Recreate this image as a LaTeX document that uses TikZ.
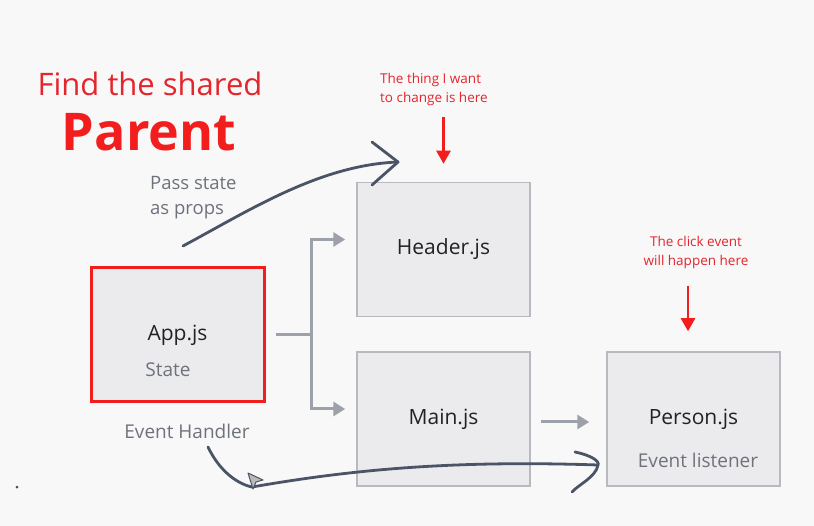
\documentclass[tikz,border=0pt]{standalone}
\usepackage{fontspec}
\setmainfont{Open Sans}
\usetikzlibrary{arrows.meta,positioning}

\definecolor{bgcol}{HTML}{F8F8F9}
\definecolor{boxfill}{HTML}{EBEBED}
\definecolor{boxline}{HTML}{B8BABF}
\definecolor{redtxt}{HTML}{E3262C}
\definecolor{redbig}{HTML}{F21E1E}
\definecolor{conngray}{HTML}{9DA1A9}
\definecolor{penink}{HTML}{4B5466}
\definecolor{subgray}{HTML}{6E727A}
\definecolor{maintxt}{HTML}{222222}

\tikzset{
  jsbox/.style={draw=boxline, fill=boxfill, line width=1.5pt, minimum width=173pt,
    minimum height=134pt, inner sep=0pt, text=maintxt, font=\fontsize{21}{24}\selectfont},
  subtxt/.style={text=subgray, font=\fontsize{19}{22}\selectfont, inner sep=0pt},
  notetxt/.style={text=redtxt, font=\fontsize{13.5}{19}\selectfont, inner sep=0pt},
  conn/.style={draw=conngray, line width=3pt, -{Triangle[length=12pt,width=14pt]}},
  redarr/.style={draw=redbig, line width=2.5pt, -{Triangle[length=13pt,width=14pt]}},
  pen/.style={draw=penink, line width=2.8pt, line cap=round, line join=round}
}

\begin{document}
\begin{tikzpicture}[x=1pt,y=-1pt]
\fill[bgcol] (0,0) rectangle (814,526);
\useasboundingbox (0,0) rectangle (814,526);
% Title
  \node[text=redtxt, font=\fontsize{31}{34}\selectfont, inner sep=0pt] (find) at (150,84) {Find the shared};
  \node[text=redbig, font=\fontsize{52}{56}\selectfont\bfseries, inner sep=0pt] (parent) at (149,132) {Parent};
  \node[subtxt, text=subgray, font=\fontsize{18.5}{25}\selectfont, align=left, anchor=west] (pass) at (150,198) {Pass state\\as props};
% Boxes
  \node[jsbox, draw=redbig, line width=3pt] (app) at (177.5,335) {App.js};
  \node[jsbox] (header) at (443.5,249.5) {Header.js};
  \node[jsbox] (main) at (443.5,419) {Main.js};
  \node[jsbox] (person) at (693.5,419) {Person.js};
  \node[subtxt] (state) at (168,370) {State};
  \node[subtxt] (handler) at (187,431) {Event Handler};
  \node[subtxt] (listener) at (698,460) {Event listener};
% Notes
  \node[notetxt, align=left, anchor=west] (thing) at (380,89) {The thing I want\\to change is here};
  \node[notetxt, align=center] (click) at (696,252) {The click event\\will happen here};
  \draw[redarr] ([yshift=65pt]header.north) -- ([yshift=18pt]header.north);
  \draw[redarr] ([xshift=-5.5pt,yshift=65pt]person.north) -- ([xshift=-5.5pt,yshift=20pt]person.north);
% Connectors
  \draw[draw=conngray, line width=3pt] ([xshift=10pt]app.east) -- ++(36,0) coordinate (split);
  \draw[conn] (split) |- ([xshift=-11pt,yshift=10pt]header.west);
  \draw[conn] (split) |- ([xshift=-11pt,yshift=10pt]main.west);
  \draw[conn] ([xshift=10pt,yshift=-3pt]main.east) -- ([xshift=-17pt,yshift=-3pt]person.west);
% Pen strokes
  \coordinate (passend) at (398,162);
  \draw[pen] (183,246) .. controls (250,210) and (320,165) .. (passend);
  \draw[pen] (372,142) -- (passend) -- (372,185);
  \coordinate (clickend) at (598,465);
  \draw[pen] (208,447) .. controls (220,472) and (238,484) .. (252,487)
             .. controls (350,470) and (450,460) .. (clickend);
  \draw[pen] (575,452) .. controls (590,455) and (600,461) .. (clickend)
             .. controls (596,477) and (578,485) .. (572,492);
% Cursor
  \draw[penink, fill=gray!55, line width=1pt, line join=round]
    (248,473) -- (263,480) -- (256,482) -- (253,489) -- cycle;
  \fill[black!70] (17,487) circle (1.5);
\end{tikzpicture}
\end{document}
